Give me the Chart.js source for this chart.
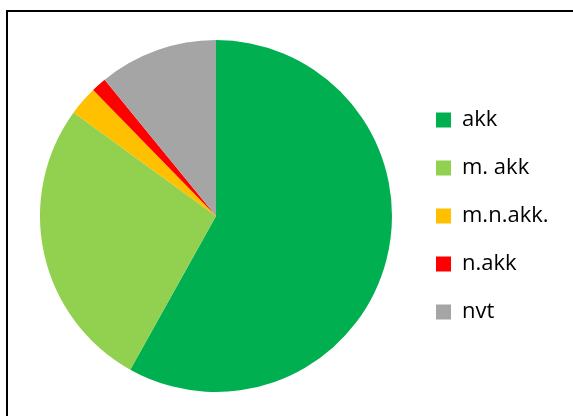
<!DOCTYPE html>
<html>
<head>
<meta charset="utf-8">
<script src="https://cdn.jsdelivr.net/npm/chart.js@4/dist/chart.umd.min.js"></script>
<style>
  html, body { margin: 0; padding: 0; background: #fff; overflow: hidden; width: 573px; height: 416px; }
  #frame { position: absolute; left: 6px; top: 10px; width: 700px; height: 600px; border-left: 2px solid #000; border-top: 2px solid #000; }
  #myChart1 { position: absolute; left: 0; top: 0; }
</style>
</head>
<body>
<div id="frame"></div>
<canvas id="myChart1" width="573" height="416"></canvas>
<script>
// 범주 / 값 (퍼센트, 그림에서 읽은 값)
const labels = ['akk', 'm. akk', 'm.n.akk.', 'n.akk', 'nvt'];
const values = [58.1, 26.9, 2.7, 1.4, 10.9];
const colors = ['#00B050', '#92D050', '#FFC000', '#FF0000', '#A5A5A5'];

// 범례 폭 고정
const legendWidthPlugin = {
    id: 'legendWidth',
    beforeInit(chart) {
        const origFit = chart.legend.fit;
        chart.legend.fit = function () {
            origFit.bind(chart.legend)();
            this.width = 163;
        };
    }
};

const ctx = document.getElementById('myChart1').getContext('2d');
const config = {
    type: 'pie',
    data: {
        labels: labels,
        datasets: [{
            data: values,
            backgroundColor: colors,
            borderWidth: 0,
            hoverOffset: 0,
            offset: 0
        }]
    },
    options: {
        responsive: false,
        animation: false,
        layout: {
            padding: { left: 22, right: 0, top: 40, bottom: 24 }
        },
        plugins: {
            legend: {
                position: 'right',
                align: 'center',
                labels: {
                    boxWidth: 15,
                    boxHeight: 15,
                    padding: 26,
                    color: '#000',
                    font: { family: '"Open Sans", sans-serif', size: 22 }
                }
            },
            tooltip: { enabled: false }
        }
    },
    plugins: [legendWidthPlugin]
};
const myChart1 = new Chart(ctx, config);
</script>
</body>
</html>
